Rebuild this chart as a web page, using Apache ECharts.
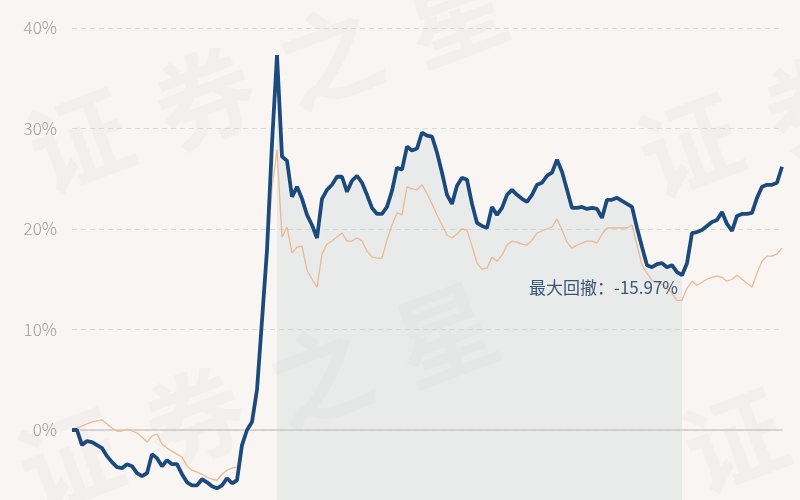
<!DOCTYPE html>
<html>
<head>
<meta charset="utf-8">
<script src="https://cdn.jsdelivr.net/npm/echarts@6/dist/echarts.min.js"></script>
<style>
html,body{margin:0;padding:0;background:#f8f5f2;}
#c{width:800px;height:500px;}
</style>
</head>
<body>
<div id="c"></div>
<script>
// ---- data ----
var fundValues = [
0,0,-1.5,-1.1,-1.2,-1.5,-1.8,-2.6,-3.2,-3.7,
-3.8,-3.4,-3.6,-4.3,-4.6,-4.3,-2.4,-2.8,-3.6,-3.0,
-3.4,-3.4,-4.4,-5.2,-5.5,-5.5,-4.9,-5.2,-5.6,-5.8,
-5.5,-4.8,-5.3,-5.0,-1.5,0,0.8,4.0,10.9,17.9,
28.5,37.3,27.2,26.8,23.2,24.2,23.0,21.4,20.4,19.1,
23.0,23.9,24.4,25.2,25.2,23.7,24.8,25.3,24.6,23.4,
22.1,21.5,21.5,22.2,23.8,26.1,25.9,28.2,27.8,28.0,
29.6,29.3,29.2,27.6,25.6,23.4,22.5,24.3,25.1,24.9,
22.5,20.6,20.3,20.1,22.2,21.4,22.1,23.4,23.9,23.4,
23.0,22.7,23.4,24.4,24.6,25.3,25.6,26.9,25.7,23.9,
22.1,22.1,22.2,22.0,22.1,22.0,21.1,22.9,22.9,23.1,
22.8,22.5,22.2,20.1,18.2,16.4,16.2,16.5,16.6,16.2,
16.4,15.7,15.4,16.6,19.6,19.7,19.9,20.3,20.7,20.9,
21.7,20.5,19.8,21.3,21.5,21.5,21.6,23.1,24.2,24.4,
24.4,24.6,26.2
];
var peerValues = [
0,0.2,0.4,0.6,0.8,0.9,1.0,0.6,0.2,-0.1,
-0.1,0.1,-0.1,-0.3,-0.7,-1.2,-0.6,-0.4,-1.4,-1.8,
-2.1,-2.4,-2.7,-3.6,-4.0,-4.2,-4.4,-4.7,-4.9,-5.0,
-4.4,-4.0,-3.8,-3.7,-2.0,0,0.8,4.0,10.5,17.0,
24.0,27.9,19.2,20.2,17.6,18.2,18.3,15.9,15.0,14.2,
17.5,18.5,18.8,19.2,19.6,18.8,18.8,19.1,18.8,17.8,
17.2,17.1,17.1,18.9,20.4,21.6,21.4,24.2,24.0,23.9,
24.4,23.5,22.5,21.4,20.4,19.4,19.1,19.5,20.0,19.9,
18.3,16.6,16.0,16.1,17.2,16.8,17.4,18.4,18.8,18.7,
18.5,18.4,18.9,19.6,19.8,20.0,20.2,21.0,19.9,18.7,
18.1,18.4,18.6,18.8,18.8,18.6,19.5,20.1,20.1,20.1,
20.1,20.1,20.4,18.4,16.4,15.6,14.9,14.7,14.5,14.2,
13.6,12.9,12.9,14.1,14.8,14.4,14.7,15.0,15.2,15.3,
15.2,14.8,15.0,15.4,15.0,14.6,14.2,15.6,16.8,17.3,
17.3,17.5,18.1
];
var yTicks = [-10, 0, 10, 20, 30, 40];
var drawdownStart = 41;   // index of peak
var drawdownEnd = 122;    // index of trough
var drawdownLabel = '最大回撤：-15.97%';
var watermarkText = '证券之星';

var categories = fundValues.map(function(v, i){ return i; });
var drawdownValues = fundValues.map(function(v, i){
  return (i >= drawdownStart && i <= drawdownEnd) ? v : null;
});

// watermark graphics (decorative)
var wm = [];
var tiles = [[80,140],[70,460],[690,145],[735,440]];
tiles.forEach(function(t){
  for (var k = 0; k < watermarkText.length; k++) {
    wm.push({
      type: 'text', z: -1, silent: true,
      x: t[0] + k * 125, y: t[1] - k * 42,
      rotation: 0.36,
      style: {
        text: watermarkText[k],
        fontSize: 100,
        fontFamily: 'Noto Sans CJK SC',
        fontWeight: 'bold',
        fill: 'rgba(120,120,120,0.045)',
        align: 'center', verticalAlign: 'middle'
      }
    });
  }
});

var chart = echarts.init(document.getElementById('c'));
chart.setOption({
  backgroundColor: '#f8f5f2',
  animation: false,
  graphic: wm,
  grid: { left: 72, width: 710, top: 28, height: 502.5, outerBoundsMode: 'none', containLabel: false },
  xAxis: {
    type: 'category',
    data: categories,
    boundaryGap: false,
    axisLine: { show: true, onZero: true, lineStyle: { color: '#cfcac5', width: 1.5 } },
    axisTick: { show: false },
    axisLabel: { show: false },
    splitLine: { show: false }
  },
  yAxis: {
    type: 'value',
    min: yTicks[0], max: yTicks[yTicks.length - 1], interval: 10,
    axisLine: { show: false },
    axisTick: { show: false },
    axisLabel: {
      color: '#a09c98', fontSize: 17, margin: 15,
      fontFamily: 'Noto Sans CJK SC', fontWeight: 300,
      formatter: function(v){ return v + '%'; }
    },
    splitLine: { show: true, lineStyle: { color: '#dcd8d4', type: [5, 4], width: 1 } }
  },
  series: [
    {
      name: 'drawdown', type: 'line', data: drawdownValues,
      showSymbol: false, symbol: 'none', connectNulls: false,
      lineStyle: { width: 0 },
      areaStyle: { color: 'rgba(200,210,218,0.45)', origin: 'start' },
      z: 1,
      markPoint: {
        symbol: 'circle', symbolSize: 0,
        data: [{ coord: [drawdownEnd, fundValues[drawdownEnd]] }],
        label: {
          show: true, position: 'left', distance: 4, offset: [0, 12],
          formatter: drawdownLabel,
          color: '#3a5674', fontSize: 17, fontFamily: 'Noto Sans CJK SC'
        }
      }
    },
    {
      name: 'peer', type: 'line', data: peerValues,
      showSymbol: false, symbol: 'none',
      lineStyle: { color: '#ebb993', width: 1.3 },
      z: 2
    },
    {
      name: 'fund', type: 'line', data: fundValues,
      showSymbol: false, symbol: 'none',
      lineStyle: { color: '#1c4a7c', width: 3.8, shadowColor: 'rgba(255,255,255,0.9)', shadowBlur: 2 },
      z: 3
    }
  ]
});
</script>
</body>
</html>
